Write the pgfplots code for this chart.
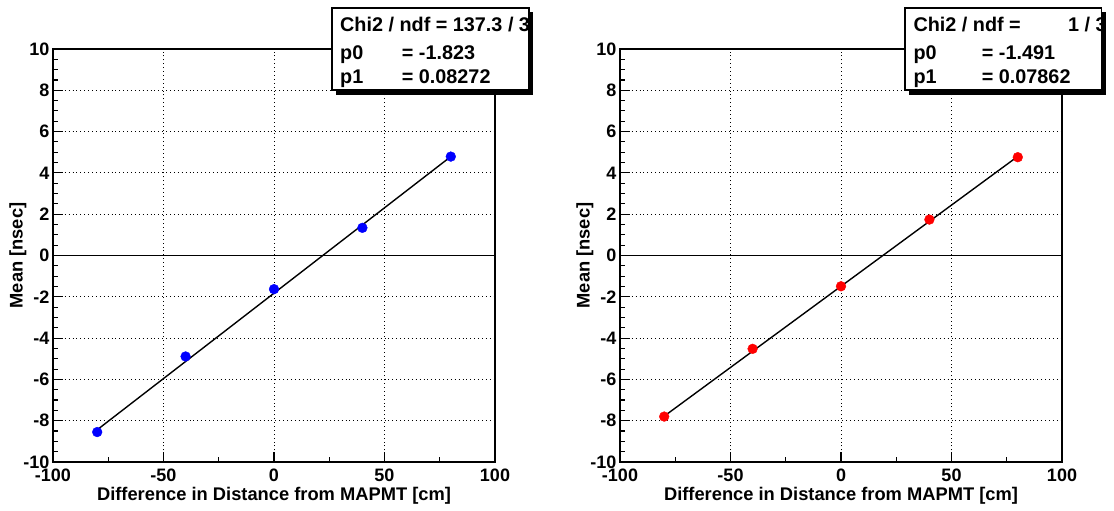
\documentclass[border=0pt]{standalone}
\usepackage{fontspec}
\setmainfont{Liberation Sans}
\usepackage{pgfplots}
\pgfplotsset{compat=1.18}
\newcommand{\statfont}{\fontsize{19.8}{20}\selectfont\bfseries}
\pgfplotsset{rootstyle/.style={
  scale only axis, width=442pt, height=413pt,
  xmin=-100, xmax=100, ymin=-10, ymax=10,
  xtick={-100,-50,0,50,100}, ytick={-10,-8,-6,-4,-2,0,2,4,6,8,10},
  minor x tick num=1, minor y tick num=3,
  tick align=inside, tick pos=left,
  major tick length=10pt, minor tick length=5pt,
  grid=major,
  major grid style={black, line width=0.9pt, dash pattern=on 0.9pt off 3pt},
  axis line style={black, line width=1.3pt},
  every tick/.style={black, line width=1.1pt},
  tick label style={font=\fontsize{18}{18}\selectfont\bfseries},
  x tick label style={yshift=-3pt},
  /pgf/number format/assume math mode=true,
  xlabel={Difference in Distance from MAPMT [cm]},
  ylabel={Mean [nsec]},
  xlabel style={font=\fontsize{18.3}{18}\selectfont\bfseries, at={(axis description cs:0.5,-0.0823)}, anchor=center},
  ylabel style={font=\fontsize{18.3}{18}\selectfont\bfseries, at={(axis description cs:-0.0792,0.5)}, anchor=center},
}}
\begin{document}
\begin{tikzpicture}
\path[use as bounding box] (0pt,0pt) rectangle (1114pt,511pt);
% left panel
\begin{axis}[rootstyle, at={(53pt,49pt)}, anchor=south west]
\addplot[black, line width=1.1pt] coordinates {(-100,0) (100,0)};
\addplot[black, line width=1.4pt] coordinates {(-80,-8.44) (80,4.79)};
\addplot[only marks, mark=*, mark size=4.9pt, color={rgb,255:red,0;green,0;blue,255}] coordinates {
(-80,-8.55) (-40,-4.89) (0,-1.63) (40,1.34) (80,4.79)};
\end{axis}
% right panel
\begin{axis}[rootstyle, at={(620pt,49pt)}, anchor=south west]
\addplot[black, line width=1.1pt] coordinates {(-100,0) (100,0)};
\addplot[black, line width=1.4pt] coordinates {(-80,-7.78) (80,4.80)};
\addplot[only marks, mark=*, mark size=4.9pt, color={rgb,255:red,255;green,0;blue,0}] coordinates {
(-80,-7.80) (-40,-4.52) (0,-1.49) (40,1.74) (80,4.76)};
\end{axis}
% stats box left
\fill[black] (336pt,416pt) rectangle (533pt,499pt);
\filldraw[fill=white, draw=black, line width=1.2pt] (332pt,421pt) rectangle (529pt,503pt);
\begin{scope}
\clip (332pt,421pt) rectangle (528.4pt,503pt);
\node[anchor=base west, inner sep=0pt, font=\statfont] at (340pt,479.3pt) {Chi2 / ndf = 137.3 / 3};
\node[anchor=base west, inner sep=0pt, font=\statfont] at (340pt,451pt) {p0};
\node[anchor=base west, inner sep=0pt, font=\statfont] at (401.7pt,451pt) {= -1.823};
\node[anchor=base west, inner sep=0pt, font=\statfont] at (340pt,427.7pt) {p1};
\node[anchor=base west, inner sep=0pt, font=\statfont] at (401.7pt,427.7pt) {= 0.08272};
\end{scope}
% stats box right
\fill[black] (909pt,416pt) rectangle (1106pt,499pt);
\filldraw[fill=white, draw=black, line width=1.2pt] (905pt,421pt) rectangle (1101.7pt,503pt);
\begin{scope}
\clip (905pt,421pt) rectangle (1101pt,503pt);
\node[anchor=base west, inner sep=0pt, font=\statfont] at (913.3pt,479.3pt) {Chi2 / ndf =};
\node[anchor=base west, inner sep=0pt, font=\statfont] at (1068pt,479.3pt) {1 / 3};
\node[anchor=base west, inner sep=0pt, font=\statfont] at (913.3pt,451pt) {p0};
\node[anchor=base west, inner sep=0pt, font=\statfont] at (981.7pt,451pt) {= -1.491};
\node[anchor=base west, inner sep=0pt, font=\statfont] at (913.3pt,427.7pt) {p1};
\node[anchor=base west, inner sep=0pt, font=\statfont] at (981.7pt,427.7pt) {= 0.07862};
\end{scope}
\end{tikzpicture}
\end{document}
